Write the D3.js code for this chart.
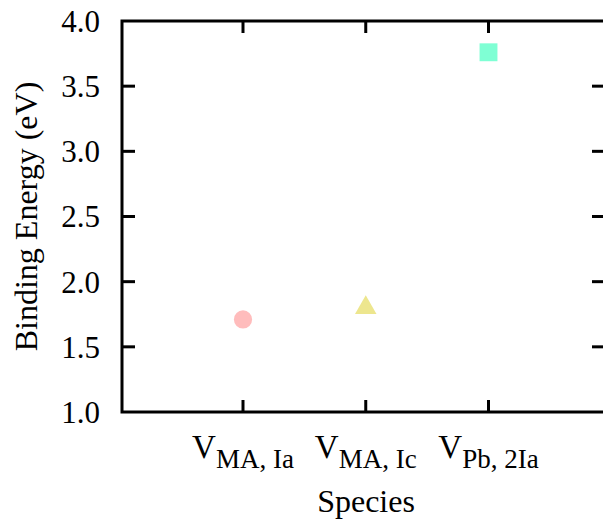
<!DOCTYPE html>
<html><head><meta charset="utf-8">
<script src="https://cdn.jsdelivr.net/npm/d3@7"></script>
<style>body{margin:0;background:#fff}svg{display:block}text{font-family:"Liberation Serif","Times New Roman",serif;fill:#000}</style>
</head><body>
<script>
const categories = ["MA, Ia", "MA, Ic", "Pb, 2Ia"];
const values = [1.71, 1.80, 3.76];
const shapes = ["circle", "triangle", "square"];
const colors = ["#ffbcbc", "#ede68e", "#7fffd4"];
const yTicks = [1.0, 1.5, 2.0, 2.5, 3.0, 3.5, 4.0];

const W = 603, H = 519;
const L = 122, T = 21, R = 605, B = 412;
const svg = d3.select("body").append("svg").attr("width", W).attr("height", H);

const x = d3.scaleLinear().domain([1, 3]).range([243, 488.5]);
const y = d3.scaleLinear().domain([1, 4]).range([B, T]);

// points
const sym = {circle: d3.symbolCircle, triangle: d3.symbolTriangle, square: d3.symbolSquare};
const sizes = {circle: 260, triangle: 200, square: 320};
svg.append("g").selectAll("path").data(values).join("path")
  .attr("transform", (d, i) => `translate(${x(i + 1)},${y(d)})`)
  .attr("d", (d, i) => d3.symbol().type(sym[shapes[i]]).size(sizes[shapes[i]])())
  .attr("fill", (d, i) => colors[i]);

// axes
const ax = svg.append("g").attr("stroke", "#000").attr("stroke-width", 3).attr("fill", "none");
ax.append("rect").attr("x", L).attr("y", T).attr("width", R - L).attr("height", B - T).attr("stroke-linejoin", "miter");
yTicks.forEach(t => {
  if (t === 1 || t === 4) return;
  ax.append("line").attr("x1", L).attr("x2", L + 13).attr("y1", y(t)).attr("y2", y(t));
  ax.append("line").attr("x1", R - 13).attr("x2", R).attr("y1", y(t)).attr("y2", y(t));
});
categories.forEach((c, i) => {
  ax.append("line").attr("x1", x(i + 1)).attr("x2", x(i + 1)).attr("y1", B).attr("y2", B - 12);
  ax.append("line").attr("x1", x(i + 1)).attr("x2", x(i + 1)).attr("y1", T).attr("y2", T + 12);
});

// y tick labels
svg.append("g").selectAll("text").data(yTicks).join("text")
  .attr("x", 100).attr("y", d => y(d)).attr("dy", "0.35em")
  .attr("text-anchor", "end").attr("font-size", 31)
  .text(d => d.toFixed(1));

// x tick labels
const xl = svg.append("g").selectAll("text").data(categories).join("text")
  .attr("x", (d, i) => x(i + 1)).attr("y", 458)
  .attr("text-anchor", "middle").attr("font-size", 33);
xl.append("tspan").text("V");
xl.append("tspan").attr("font-size", 27).attr("dy", 10).text(d => d);

// axis titles
svg.append("text").attr("x", 366).attr("y", 512).attr("text-anchor", "middle").attr("font-size", 32).text("Species");
svg.append("text").attr("transform", `translate(37,${(T + B) / 2}) rotate(-90)`)
  .attr("text-anchor", "middle").attr("font-size", 32).text("Binding Energy (eV)");
</script>
</body></html>
